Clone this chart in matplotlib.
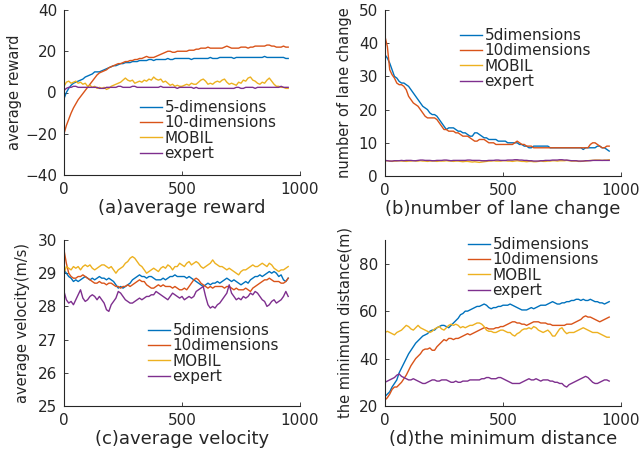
# Recreate 2x2 comparison chart (reward, lane change, velocity, min distance)
import matplotlib
matplotlib.use("Agg")
import matplotlib.pyplot as plt

# episode axis (sampled every 10 episodes)
episode = list(range(0, 951, 10))

# (a) average reward
reward_5 = [-3, 0, 2, 3.5, 4.5, 5, 5.5, 6, 6.5, 7.5,
            8, 8.5, 9, 10, 10, 10, 10.5, 11, 11.5, 12,
            12.5, 13, 13, 13.5, 14, 14, 14.5, 14.5, 14.5, 15,
            15, 15, 15.5, 15.5, 15.5, 15.5, 16, 16, 15.5, 16,
            16, 16, 16, 16, 16.5, 16, 16, 16.5, 16.5, 16.5,
            16.5, 16.5, 16.5, 16.5, 16, 16.5, 16.5, 16.5, 16.5, 16.5,
            16.5, 16.5, 17, 16.5, 16.5, 16.5, 17, 17, 17, 17,
            17, 17, 16.5, 17, 17, 17, 17, 17, 17, 17,
            17, 17, 17, 17, 17, 17.5, 17, 17, 17, 17,
            17, 17, 17, 17, 16.5, 16.5]
reward_10 = [-20, -16, -13, -10, -7.5, -5.5, -3.5, -2, -0.5, 1,
             2.5, 4, 5.5, 7, 8.5, 9.5, 10, 10.5, 11, 12,
             12.5, 13, 13.5, 14, 14, 14.5, 15, 15, 15.5, 15.5,
             16, 16, 16.5, 16.5, 17, 17.5, 17, 17, 17, 17.5,
             18, 18.5, 19, 19.5, 20, 20, 19.5, 19.5, 20, 20,
             20, 20, 20, 20.5, 20.5, 20.5, 21, 21, 21.5, 21.5,
             21.5, 22, 21.5, 21.5, 21.5, 21.5, 21.5, 21.5, 22, 22.5,
             22, 21.5, 21.5, 21.5, 21.5, 22, 22, 22, 21.5, 22,
             22, 22.5, 22.5, 22.5, 22.5, 22.5, 23, 23, 22.5, 22.5,
             22, 22, 22, 22.5, 22, 22]
reward_mobil = [3, 5, 5.5, 4.5, 5, 5.5, 4.5, 5, 4, 4.5,
                3, 3.5, 2.5, 3, 2, 2.5, 2, 2.5, 1.5, 2,
                3, 3.5, 4, 4.5, 5, 6, 7, 6, 5.5, 6,
                4.5, 5, 5.5, 5, 6, 5.5, 6.5, 6, 7.5, 6.5,
                6, 6.5, 5, 5.5, 4.5, 3.5, 4, 3, 3.5, 3,
                3, 3.5, 4, 3.5, 4.5, 4, 4, 5, 6, 6.5,
                5.5, 4, 4.5, 4, 5, 5.5, 5, 6, 6.5, 5,
                4, 4.5, 4, 3.5, 5, 4.5, 6, 5.5, 7, 7.5,
                6, 5.5, 4.5, 4, 5, 4.5, 6, 7, 5.5, 4,
                3, 3, 2.5, 2.5, 2, 2]
reward_expert = [1, 2, 2.5, 2.5, 3, 3, 2.5, 2.5, 2.5, 2.5,
                 2.5, 2.5, 2.5, 2.5, 2.5, 2, 2, 2, 2.5, 2.5,
                 2.5, 2.5, 2.5, 3, 3, 2.5, 2.5, 2.5, 2.5, 3,
                 3, 2.5, 2.5, 2.5, 2.5, 2.5, 2.5, 2.5, 2.5, 2.5,
                 2.5, 3, 2.5, 2.5, 2.5, 2.5, 2.5, 2.5, 2, 2.5,
                 2.5, 2.5, 2.5, 2.5, 2.5, 2, 2.5, 2, 2, 2,
                 2, 2, 2, 2, 2, 2, 2, 2, 2, 2,
                 2, 2, 2, 2.5, 2.5, 2, 2, 2.5, 2.5, 2.5,
                 2.5, 2, 2.5, 2.5, 2.5, 2.5, 2.5, 2.5, 2.5, 2.5,
                 2.5, 2.5, 3, 2.5, 2.5, 2.5]

# (b) number of lane change
lane_5 = [36.5, 35.5, 34, 32, 30, 29.5, 28.5, 28, 28, 27.5,
          27, 26, 25, 24, 23, 22, 21, 20.5, 20, 19,
          18.5, 18.5, 18, 17, 16, 15, 14, 14.5, 14.5, 14.5,
          14, 13.5, 13.5, 13, 13, 12.5, 12, 12, 13, 13,
          12.5, 12, 11.5, 11.5, 11, 11, 11, 11, 10.5, 10.5,
          10.5, 10.5, 10, 10, 10, 10, 10, 9.5, 9.5, 9,
          9, 8.5, 8.5, 9, 9, 9, 9, 9, 9, 9,
          8.5, 8.5, 8.5, 8.5, 8.5, 8.5, 8.5, 8.5, 8.5, 8.5,
          8.5, 8.5, 8.5, 8.5, 8, 8.5, 8.5, 8.5, 8.5, 8.5,
          9, 9, 8.5, 8.5, 8, 7.5]
lane_10 = [42, 39, 32, 30.5, 29.5, 28, 27.5, 27.5, 27, 26,
           24, 23, 22, 21.5, 21, 20, 19, 18, 17.5, 17.5,
           17.5, 17.5, 17, 16, 15, 14, 14, 13.5, 13.5, 13.5,
           13, 13, 12.5, 12, 12, 12, 11.5, 11, 10.5, 10.5,
           11, 11, 11, 10.5, 10, 10, 10, 9.5, 9.5, 9.5,
           9.5, 9.5, 9.5, 9.5, 9.5, 10, 10.5, 10, 9.5, 9.5,
           9, 9, 9, 8.5, 8.5, 8.5, 8.5, 8.5, 8.5, 8.5,
           8.5, 8.5, 8.5, 8.5, 8.5, 8.5, 8.5, 8.5, 8.5, 8.5,
           8.5, 8.5, 8.5, 8.5, 8.5, 8.5, 8.5, 9.5, 10, 10,
           9.5, 9, 8.5, 8.5, 9, 9]
lane_mobil = [4.5, 4.6, 4.5, 4.4, 4.5, 4.5, 4.6, 4.5, 4.5, 4.4,
              4.5, 4.5, 4.6, 4.5, 4.5, 4.6, 4.5, 4.5, 4.4, 4.5,
              4.5, 4.5, 4.4, 4.5, 4.5, 4.5, 4.6, 4.5, 4.5, 4.4,
              4.5, 4.5, 4.4, 4.3, 4.4, 4.4, 4.3, 4.2, 4.3, 4.2,
              4.1, 4.2, 4.3, 4.4, 4.5, 4.5, 4.6, 4.5, 4.5, 4.5,
              4.6, 4.6, 4.5, 4.5, 4.4, 4.5, 4.6, 4.5, 4.4, 4.4,
              4.3, 4.4, 4.4, 4.3, 4.3, 4.4, 4.5, 4.4, 4.4, 4.5,
              4.5, 4.6, 4.6, 4.5, 4.6, 4.6, 4.6, 4.7, 4.6, 4.5,
              4.5, 4.5, 4.4, 4.4, 4.5, 4.5, 4.6, 4.7, 4.7, 4.8,
              4.8, 4.8, 4.7, 4.8, 4.8, 4.9]
lane_expert = [4.7, 4.6, 4.5, 4.5, 4.6, 4.6, 4.6, 4.7, 4.6, 4.7,
               4.7, 4.7, 4.6, 4.6, 4.7, 4.8, 4.8, 4.7, 4.7, 4.7,
               4.6, 4.6, 4.7, 4.7, 4.7, 4.8, 4.8, 4.7, 4.6, 4.7,
               4.7, 4.7, 4.7, 4.7, 4.7, 4.8, 4.8, 4.7, 4.7, 4.7,
               4.7, 4.6, 4.6, 4.6, 4.7, 4.7, 4.7, 4.8, 4.8, 4.7,
               4.7, 4.7, 4.8, 4.8, 4.8, 4.9, 4.9, 4.8, 4.8, 4.7,
               4.7, 4.6, 4.6, 4.5, 4.5, 4.5, 4.6, 4.6, 4.7, 4.7,
               4.7, 4.8, 4.8, 4.8, 4.9, 4.9, 4.8, 4.8, 4.7, 4.6,
               4.6, 4.6, 4.5, 4.5, 4.5, 4.6, 4.6, 4.6, 4.7, 4.7,
               4.7, 4.7, 4.7, 4.7, 4.7, 4.7]

# (c) average velocity
vel_5 = [29.1, 29.0, 28.9, 28.85, 28.75, 28.8, 28.75, 28.8, 28.85, 28.9,
         28.85, 28.8, 28.85, 28.8, 28.85, 28.9, 28.85, 28.85, 28.8, 28.85,
         28.8, 28.75, 28.65, 28.55, 28.6, 28.55, 28.6, 28.65, 28.7, 28.8,
         28.85, 28.9, 28.95, 28.9, 28.9, 28.85, 28.9, 28.9, 28.85, 28.8,
         28.8, 28.8, 28.85, 28.8, 28.85, 28.9, 28.9, 28.95, 28.9, 28.9,
         28.9, 28.9, 28.85, 28.9, 28.85, 28.8, 28.75, 28.7, 28.65, 28.6,
         28.65, 28.7, 28.65, 28.7, 28.7, 28.75, 28.7, 28.75, 28.8, 28.85,
         28.8, 28.75, 28.8, 28.75, 28.7, 28.65, 28.7, 28.75, 28.7, 28.8,
         28.85, 28.9, 28.9, 28.95, 28.9, 28.95, 29.0, 29.05, 29.0, 29.05,
         29.0, 28.9, 28.95, 28.8, 28.75, 28.85]
vel_10 = [29.7, 29.3, 29.0, 28.9, 28.85, 28.85, 28.9, 28.9, 28.95, 28.9,
          28.85, 28.8, 28.75, 28.7, 28.7, 28.75, 28.7, 28.7, 28.65, 28.7,
          28.7, 28.65, 28.6, 28.6, 28.55, 28.6, 28.6, 28.65, 28.6, 28.65,
          28.7, 28.75, 28.8, 28.75, 28.75, 28.65, 28.6, 28.55, 28.55, 28.6,
          28.65, 28.6, 28.65, 28.6, 28.6, 28.6, 28.55, 28.6, 28.55, 28.5,
          28.5, 28.55, 28.5, 28.6, 28.7, 28.8, 28.85, 28.8, 28.7, 28.65,
          28.6, 28.55, 28.6, 28.55, 28.6, 28.6, 28.6, 28.6, 28.55, 28.6,
          28.6, 28.55, 28.5, 28.55, 28.5, 28.5, 28.5, 28.55, 28.5, 28.45,
          28.55, 28.6, 28.65, 28.7, 28.75, 28.8, 28.8, 28.85, 28.8, 28.75,
          28.75, 28.75, 28.7, 28.7, 28.75, 28.85]
vel_mobil = [29.0, 29.2, 29.15, 29.1, 29.2, 29.15, 29.2, 29.1, 29.2, 29.25,
             29.2, 29.25, 29.15, 29.1, 29.15, 29.2, 29.25, 29.25, 29.2, 29.15,
             29.2, 29.1, 29.0, 29.1, 29.15, 29.2, 29.3, 29.35, 29.45, 29.5,
             29.45, 29.35, 29.25, 29.2, 29.1, 29.0, 29.05, 29.1, 29.15, 29.1,
             29.05, 29.15, 29.2, 29.15, 29.25, 29.2, 29.1, 29.2, 29.2, 29.3,
             29.25, 29.2, 29.3, 29.35, 29.25, 29.3, 29.35, 29.3, 29.2, 29.15,
             29.2, 29.25, 29.3, 29.4, 29.3, 29.25, 29.2, 29.2, 29.15, 29.1,
             29.15, 29.1, 29.05, 29.0, 28.95, 29.05, 29.1, 29.1, 29.15, 29.2,
             29.25, 29.2, 29.2, 29.25, 29.3, 29.25, 29.2, 29.3, 29.25, 29.15,
             29.1, 29.05, 29.1, 29.1, 29.15, 29.2]
vel_expert = [28.45, 28.2, 28.1, 28.15, 28.05, 28.2, 28.35, 28.5, 28.25, 28.15,
              28.2, 28.3, 28.35, 28.3, 28.2, 28.3, 28.2, 28.1, 27.9, 27.85,
              28.05, 28.15, 28.25, 28.45, 28.4, 28.3, 28.2, 28.15, 28.1, 28.1,
              28.15, 28.2, 28.25, 28.2, 28.25, 28.3, 28.3, 28.35, 28.35, 28.45,
              28.4, 28.35, 28.3, 28.25, 28.2, 28.3, 28.4, 28.35, 28.3, 28.25,
              28.3, 28.2, 28.25, 28.3, 28.25, 28.3, 28.45, 28.5, 28.55, 28.6,
              28.3, 28.05, 27.95, 28.0, 27.95, 28.05, 28.1, 28.2, 28.3, 28.4,
              28.65, 28.4, 28.3, 28.2, 28.25, 28.2, 28.3, 28.25, 28.3, 28.4,
              28.35, 28.45, 28.4, 28.3, 28.2, 28.15, 28.0, 28.05, 28.15, 28.2,
              28.1, 28.15, 28.2, 28.3, 28.45, 28.3]

# (d) minimum distance
dist_5 = [24, 25, 26, 28, 29.5, 31, 34, 36, 38, 40,
          42, 43.5, 45, 46.5, 47.5, 48.5, 49.5, 50, 50.5, 51.5,
          52, 52, 53, 53.5, 54, 54, 53.5, 53, 54, 55,
          56, 57, 58.5, 59, 60, 60, 60.5, 61, 61.5, 62,
          62, 62.5, 63, 62.5, 61.5, 61, 61.5, 61.5, 62, 62,
          62.5, 62.5, 62.5, 63, 62.5, 62, 61.5, 61, 60.5, 60.5,
          60.5, 61, 61.5, 61, 61.5, 62, 62.5, 62.5, 62.5, 63,
          63.5, 64, 63.5, 63, 63, 63.5, 63.5, 64, 64, 64.5,
          64.5, 65, 65, 64.5, 65, 64.5, 64.5, 65, 64.5, 64,
          64, 63.5, 63.5, 63, 63.5, 64]
dist_10 = [22.5, 23.5, 25, 27, 28, 28, 29, 30, 31.5, 33,
           35, 37, 38.5, 40, 41, 42, 43.5, 44, 44, 44.5,
           43.5, 43.5, 45, 46, 47, 48, 47.5, 48.5, 48.5, 48,
           48.5, 48.5, 49, 49.5, 50, 50.5, 50, 50.5, 51, 51.5,
           52, 52.5, 53, 53, 52.5, 52.5, 52.5, 53, 53, 53.5,
           53.5, 54, 54.5, 55, 55.5, 55.5, 55, 55, 54.5, 54.5,
           54, 54.5, 55, 55.5, 55.5, 55.5, 55, 55, 55, 54.5,
           54.5, 54, 54, 54, 54, 54, 54, 54.5, 54.5, 54.5,
           55, 55.5, 56, 56.5, 57.5, 58, 57.5, 57.5, 57, 56.5,
           56, 55.5, 56, 56.5, 57, 57.5]
dist_mobil = [51, 51.5, 51, 50.5, 50, 51, 51.5, 52, 53, 54,
              53.5, 52.5, 52, 53, 54, 53, 52.5, 52, 51.5, 51,
              51.5, 52.5, 53, 53.5, 52.5, 52, 53, 54, 54.5, 54,
              54.5, 54, 53, 53.5, 53, 53.5, 54, 54, 54.5, 55,
              55, 54.5, 53.5, 52, 51.5, 51.5, 51, 51, 51.5, 52,
              52, 51.5, 51, 51, 50, 49.5, 50.5, 51, 52, 52.5,
              52.5, 53, 52.5, 53.5, 53, 52, 51.5, 51, 51.5, 52,
              51, 49.5, 49.5, 51, 52.5, 53, 51.5, 50.5, 51, 51,
              51, 51.5, 52, 52.5, 53, 52.5, 52, 51.5, 51, 51,
              51, 50.5, 50, 49.5, 49, 49]
dist_expert = [30, 30.5, 31, 31.5, 32, 33, 33.5, 32.5, 32, 31.5,
               31, 31, 31.5, 31, 30.5, 30, 29.5, 29.5, 30, 30.5,
               31, 31, 30.5, 30.5, 31, 31, 31, 30.5, 30, 30,
               30.5, 30, 30, 30.5, 30.5, 30.5, 31, 31, 31, 31,
               31, 31.5, 31.5, 32, 32, 31.5, 31.5, 31.5, 32, 32,
               31.5, 31, 30.5, 30, 29.5, 29.5, 29.5, 29.5, 30, 30.5,
               31, 31.5, 31, 31, 31.5, 31, 30.5, 31, 31, 31,
               30.5, 30.5, 30, 30, 29.5, 29.5, 28.5, 28, 29, 29.5,
               30, 30.5, 31, 31.5, 32, 32.5, 32, 31, 30, 29.5,
               29.5, 30, 30.5, 31, 31, 30.5]

# warna default MATLAB
colors = ['#0072BD', '#D95319', '#EDB120', '#7E2F8E']
dark = '#262626'

plt.rcParams['font.family'] = 'DejaVu Sans'
plt.rcParams['axes.edgecolor'] = dark
plt.rcParams['xtick.color'] = dark
plt.rcParams['ytick.color'] = dark

fig = plt.figure(figsize=(6.41, 4.55), dpi=100)
W, H = 641.0, 455.0


def panel(box, series, labels, ylim, yticks, ylabel, xlabel, ylab_x, leg_xy):
    left, top, right, bottom = box
    ax = fig.add_axes([left / W, 1 - bottom / H, (right - left) / W, (bottom - top) / H])
    for s, lab, c in zip(series, labels, colors):
        ax.plot(episode, s, color=c, lw=1.0, label=lab)
    ax.set_xlim(0, 1000)
    ax.set_ylim(*ylim)
    ax.set_xticks([0, 500, 1000])
    ax.set_yticks(yticks)
    ax.spines['top'].set_visible(False)
    ax.spines['right'].set_visible(False)
    ax.spines['left'].set_linewidth(0.8)
    ax.spines['bottom'].set_linewidth(0.8)
    ax.tick_params(direction='in', length=3, width=0.6, labelsize=11, pad=5)
    ax.set_xlabel(xlabel, fontsize=13, color=dark)
    ax.xaxis.label.set_va('center')
    ax.xaxis.set_label_coords(0.5, -0.2)
    ax.set_ylabel(ylabel, fontsize=10.5, color=dark)
    ax.yaxis.label.set_va('center')
    ax.yaxis.set_label_coords(ylab_x, 0.5)
    leg = ax.legend(loc='upper left', bbox_to_anchor=(leg_xy[0] / W, 1 - leg_xy[1] / H),
                    bbox_transform=fig.transFigure, frameon=False, fontsize=11,
                    handlelength=1.45, handletextpad=0.15, labelspacing=0.02,
                    borderpad=0, borderaxespad=0)
    for t in leg.get_texts():
        t.set_color(dark)
    return ax


panel((64, 10, 300, 175), [reward_5, reward_10, reward_mobil, reward_expert],
      ['5-dimensions', '10-dimensions', 'MOBIL', 'expert'],
      (-40, 40), [-40, -20, 0, 20, 40], 'average reward', '(a)average reward',
      -0.208, (140, 100))

panel((385, 10, 621, 176), [lane_5, lane_10, lane_mobil, lane_expert],
      ['5dimensions', '10dimensions', 'MOBIL', 'expert'],
      (0, 50), [0, 10, 20, 30, 40, 50], 'number of lane change', '(b)number of lane change',
      -0.17, (460, 28))

panel((64, 240, 300, 406), [vel_5, vel_10, vel_mobil, vel_expert],
      ['5dimensions', '10dimensions', 'MOBIL', 'expert'],
      (25, 30), [25, 26, 27, 28, 29, 30], 'average velocity(m/s)', '(c)average velocity',
      -0.174, (148, 323))

panel((385, 240, 621, 406), [dist_5, dist_10, dist_mobil, dist_expert],
      ['5dimensions', '10dimensions', 'MOBIL', 'expert'],
      (20, 90), [20, 40, 60, 80], 'the minimum distance(m)', '(d)the minimum distance',
      -0.17, (468, 237))

fig.savefig('out.png', dpi=100)
